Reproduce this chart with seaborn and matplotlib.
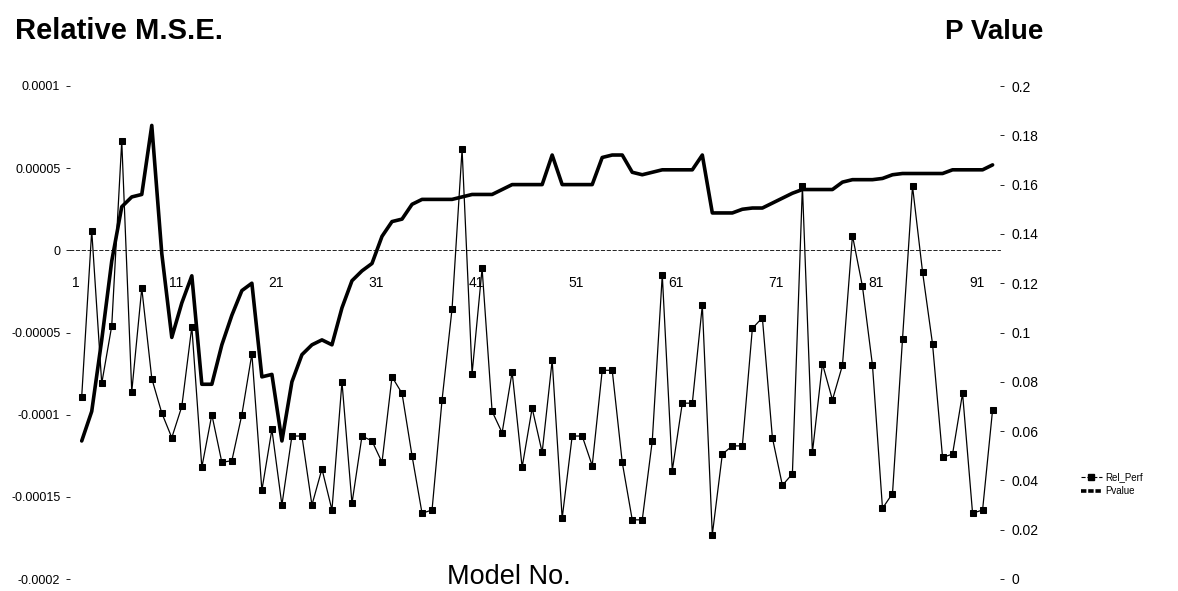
import numpy as np
import pandas as pd
import seaborn as sns
import matplotlib.pyplot as plt
from matplotlib.lines import Line2D
from matplotlib.transforms import ScaledTranslation

# Data (92 models)
models = list(range(1, 93))

# relative M.S.E., in units of 1e-5
rel_perf_e5 = [
    -8.9, 1.2, -8.1, -4.6, 6.65, -8.6, -2.3, -7.8, -9.9, -11.4,
    -9.5, -4.65, -13.2, -10.0, -12.9, -12.8, -10.0, -6.3, -14.6, -10.9,
    -15.5, -11.3, -11.3, -15.5, -13.3, -15.8, -8.0, -15.4, -11.3, -11.6,
    -12.9, -7.7, -8.7, -12.5, -16.0, -15.8, -9.1, -3.55, 6.15, -7.5,
    -1.1, -9.8, -11.1, -7.4, -13.2, -9.6, -12.3, -6.7, -16.3, -11.3,
    -11.3, -13.1, -7.3, -7.3, -12.9, -16.4, -16.4, -11.6, -1.5, -13.4,
    -9.3, -9.3, -3.35, -17.3, -12.4, -11.9, -11.9, -4.75, -4.1, -11.4,
    -14.3, -13.6, 3.9, -12.3, -6.9, -9.1, -7.0, 0.9, -2.2, -7.0,
    -15.7, -14.8, -5.4, 3.9, -1.3, -5.7, -12.6, -12.4, -8.7, -16.0,
    -15.8, -9.7,
]

pvalue = [
    0.056, 0.068, 0.097, 0.129, 0.151, 0.155, 0.156, 0.184, 0.132, 0.098,
    0.112, 0.123, 0.079, 0.079, 0.095, 0.107, 0.117, 0.120, 0.082, 0.083,
    0.056, 0.080, 0.091, 0.095, 0.097, 0.095, 0.110, 0.121, 0.125, 0.128,
    0.139, 0.145, 0.146, 0.152, 0.154, 0.154, 0.154, 0.154, 0.155, 0.156,
    0.156, 0.156, 0.158, 0.160, 0.160, 0.160, 0.160, 0.172, 0.160, 0.160,
    0.160, 0.160, 0.171, 0.172, 0.172, 0.165, 0.164, 0.165, 0.166, 0.166,
    0.166, 0.166, 0.172, 0.1485, 0.1485, 0.1485, 0.150, 0.1505, 0.1505, 0.1525,
    0.1545, 0.1565, 0.158, 0.158, 0.158, 0.158, 0.161, 0.162, 0.162, 0.162,
    0.1625, 0.164, 0.1645, 0.1645, 0.1645, 0.1645, 0.1645, 0.166, 0.166, 0.166,
    0.166, 0.168,
]

cat_ticks = list(range(1, 92, 10))
left_ticks = [-0.0002, -0.00015, -0.0001, -0.00005, 0, 0.00005, 0.0001]
left_labels = ['-0.0002', '-0.00015', '-0.0001', '-0.00005', '0', '0.00005', '0.0001']
right_ticks = [0, 0.02, 0.04, 0.06, 0.08, 0.1, 0.12, 0.14, 0.16, 0.18, 0.2]
right_labels = ['0', '0.02', '0.04', '0.06', '0.08', '0.1', '0.12', '0.14', '0.16', '0.18', '0.2']

df = pd.DataFrame({'Model': models,
                   'Rel_Perf': np.array(rel_perf_e5) * 1e-5,
                   'Pvalue': pvalue})

sns.set_style('white')
plt.rcParams['font.family'] = ['Liberation Sans', 'DejaVu Sans']
plt.rcParams['text.color'] = 'black'

fig = plt.figure(figsize=(11.78, 5.91), dpi=100)
ax = fig.add_axes([70 / 1178, 12 / 591, 930 / 1178, 493 / 591])
ax2 = ax.twinx()

# Rel_Perf: thin line with square markers
sns.lineplot(data=df, x='Model', y='Rel_Perf', ax=ax, color='black', lw=0.9,
             marker='s', markersize=5, markeredgecolor='black', legend=False)
# Pvalue: thick line on the right axis
sns.lineplot(data=df, x='Model', y='Pvalue', ax=ax2, color='black', lw=2.6,
             legend=False)

ax.set_xlim(-0.17, 92.74)
ax.set_ylim(-0.0002, 0.0001)
ax2.set_ylim(0, 0.2)

for s in ['top', 'right', 'left']:
    ax.spines[s].set_visible(False)
for s in ax2.spines.values():
    s.set_visible(False)
ax.spines['bottom'].set_position(('data', 0))
ax.spines['bottom'].set_linestyle((0, (4, 3)))
ax.spines['bottom'].set_linewidth(0.6)
ax.spines['bottom'].set_color('black')

ax.set_xticks(cat_ticks)
ax.set_xticklabels([str(t) for t in cat_ticks], fontsize=10)
ax.tick_params(axis='x', direction='inout', length=5, width=0.6, pad=16,
               colors='black')
# category labels sit a little left of their points in the original
shift = ScaledTranslation(-6 / 100, 0, fig.dpi_scale_trans)
for lab in ax.get_xticklabels():
    lab.set_transform(lab.get_transform() + shift)

ax.set_yticks(left_ticks)
ax.set_yticklabels(left_labels, fontsize=9)
ax.tick_params(axis='y', direction='out', length=3, width=0.6, pad=4,
               left=True, colors='black')
ax2.set_yticks(right_ticks)
ax2.set_yticklabels(right_labels, fontsize=10)
ax2.tick_params(axis='y', direction='out', length=3, width=0.6, pad=5,
                right=True, colors='black')
ax.set_xlabel('')
ax.set_ylabel('')
ax2.set_ylabel('')

fig.text(15 / 1178, 1 - 39 / 591, 'Relative M.S.E.', fontsize=21,
         fontweight='bold', va='baseline', ha='left', color='black')
fig.text(945 / 1178, 1 - 39 / 591, 'P Value', fontsize=20,
         fontweight='bold', va='baseline', ha='left', color='black')
fig.text(509 / 1178, 1 - 577 / 591, 'Model No.', fontsize=19.5,
         va='center', ha='center', color='black')

handles = [Line2D([], [], color='black', lw=0.8, ls='--', marker='s', markersize=4),
           Line2D([], [], color='black', lw=2.6, ls=(0, (1.5, 0.5)))]
fig.legend(handles, ['Rel_Perf', 'Pvalue'], loc='center left',
           bbox_to_anchor=(1072 / 1178, 1 - 484 / 591), fontsize=7,
           frameon=False, handlelength=2.2, handletextpad=0.3,
           labelspacing=0.4, labelcolor='black')

fig.savefig('out.png', dpi=100)
